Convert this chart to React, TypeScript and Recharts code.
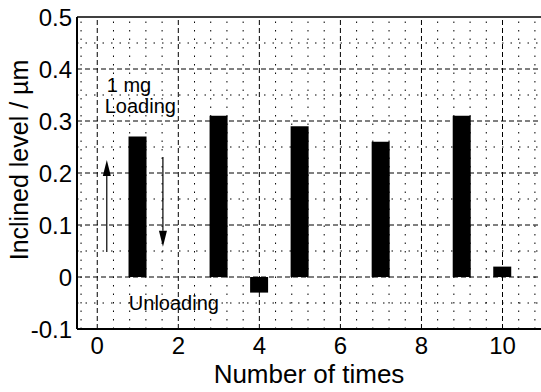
import React from "react";
import {
  ComposedChart,
  Bar,
  XAxis,
  YAxis,
  ReferenceLine,
  ReferenceDot,
} from "recharts";

// measurement number and inclined level (µm)
const times = [1, 3, 4, 5, 7, 9, 10];
const levels = [0.27, 0.31, -0.03, 0.29, 0.26, 0.31, 0.02];

const xTicks = [0, 2, 4, 6, 8, 10];
const yTicks = [-0.1, 0, 0.1, 0.2, 0.3, 0.4, 0.5];

// grid lines (dashed majors, dotted minors)
const majorX = [0, 2, 4, 6, 8, 10];
const majorY = [0, 0.1, 0.2, 0.3, 0.4];
const minorX = [
  -0.4, 0.4, 0.8, 1.2, 1.6, 2.4, 2.8, 3.2, 3.6, 4.4, 4.8, 5.2, 5.6, 6.4, 6.8,
  7.2, 7.6, 8.4, 8.8, 9.2, 9.6, 10.4, 10.8,
];
const minorY = [-0.05, 0.05, 0.15, 0.25, 0.35, 0.45];

const data = times.map((t, i) => ({ t, level: levels[i] }));

const FONT = "'Liberation Sans', Arial, Helvetica, sans-serif";

const Arrow = (props: any) => {
  const { x1, y1, x2, y2 } = props;
  const dir = y2 > y1 ? 1 : -1;
  const head = 16;
  return (
    <g>
      <line x1={x1} y1={y1} x2={x2} y2={y2 - dir * head} stroke="#000" strokeWidth={1.2} />
      <polygon
        points={`${x2},${y2} ${x2 - 4},${y2 - dir * head} ${x2 + 4},${y2 - dir * head}`}
        fill="#000"
      />
    </g>
  );
};

const Anno = (props: any) => {
  const { viewBox, value } = props;
  return (
    <text x={viewBox.x} y={viewBox.y} fontSize={20} fontFamily={FONT} fill="#000">
      {value}
    </text>
  );
};

const XTitle = (props: any) => {
  const { viewBox } = props;
  return (
    <text
      x={viewBox.x + viewBox.width / 2}
      y={viewBox.y + 54}
      textAnchor="middle"
      fontSize={26}
      fontFamily={FONT}
      fill="#000"
    >
      Number of times
    </text>
  );
};

const YTitle = (props: any) => {
  const { viewBox } = props;
  const x = viewBox.x + 28;
  const y = 160;
  return (
    <text
      x={x}
      y={y}
      transform={`rotate(-90, ${x}, ${y})`}
      textAnchor="middle"
      fontSize={25}
      fontFamily={FONT}
      fill="#000"
    >
      Inclined level / µm
    </text>
  );
};

export default function App() {
  return (
    <div style={{ position: "absolute", left: 0, top: 0, width: 541, height: 392, background: "#fff" }}>
      <ComposedChart
        width={541}
        height={392}
        data={data}
        margin={{ top: 17, right: 0, left: 0, bottom: 0 }}
      >
        <XAxis
          dataKey="t"
          type="number"
          domain={[-0.5, 10.95]}
          ticks={xTicks}
          allowDataOverflow
          height={63}
          tickLine={false}
          tickSize={0}
          tickMargin={8}
          axisLine={{ stroke: "#000", strokeWidth: 2 }}
          tick={{ fontSize: 24, fill: "#000", fontFamily: FONT }}
          label={{ content: XTitle }}
        />
        <YAxis
          type="number"
          domain={[-0.1, 0.5]}
          ticks={yTicks}
          allowDataOverflow
          width={77}
          tickLine={false}
          tickSize={0}
          tickMargin={5}
          axisLine={{ stroke: "#000", strokeWidth: 2 }}
          tick={{ fontSize: 24, fill: "#000", fontFamily: FONT }}
          tickFormatter={(v: number) => (v === 0 ? "0" : v.toFixed(1))}
          label={{ content: YTitle }}
        />
        {minorX.map((v) => (
          <ReferenceLine key={"mx" + v} x={v} stroke="#000" strokeDasharray="1.5 7" strokeWidth={1} />
        ))}
        {minorY.map((v) => (
          <ReferenceLine key={"my" + v} y={v} stroke="#000" strokeDasharray="1.5 7" strokeWidth={1} />
        ))}
        {majorX.map((v) => (
          <ReferenceLine key={"Mx" + v} x={v} stroke="#000" strokeDasharray="5 3" strokeWidth={1} />
        ))}
        {majorY.map((v) => (
          <ReferenceLine key={"My" + v} y={v} stroke="#000" strokeDasharray="5 3" strokeWidth={1} />
        ))}
        <ReferenceLine y={0.5} stroke="#000" strokeWidth={1.5} />
        <Bar dataKey="level" fill="#000" barSize={18} isAnimationActive={false} />
        <ReferenceLine
          segment={[{ x: 0.235, y: 0.048 }, { x: 0.235, y: 0.225 }]}
          shape={Arrow}
        />
        <ReferenceLine
          segment={[{ x: 1.62, y: 0.231 }, { x: 1.62, y: 0.058 }]}
          shape={Arrow}
        />
        <ReferenceDot x={0.235} y={0.356} r={0} fill="none" stroke="none" label={{ value: "1 mg", content: Anno }} />
        <ReferenceDot x={0.185} y={0.315} r={0} fill="none" stroke="none" label={{ value: "Loading", content: Anno }} />
        <ReferenceDot x={0.78} y={-0.063} r={0} fill="none" stroke="none" label={{ value: "Unloading", content: Anno }} />
      </ComposedChart>
    </div>
  );
}
